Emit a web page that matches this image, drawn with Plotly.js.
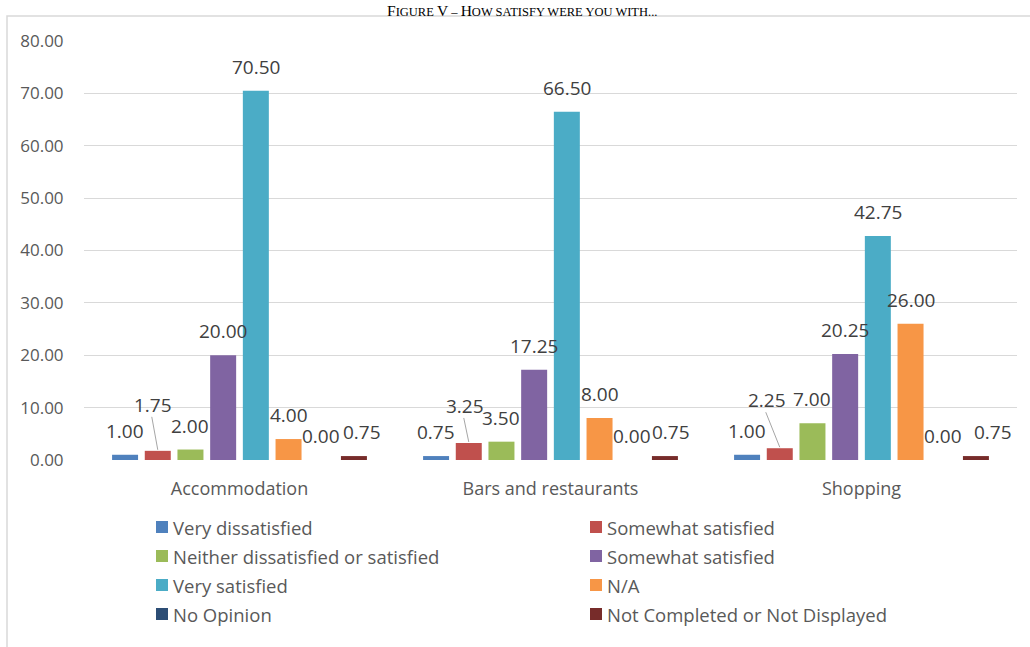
<!DOCTYPE html>
<html>
<head>
<meta charset="utf-8">
<script src="https://cdn.plot.ly/plotly-3.0.1.min.js"></script>
<style>html,body{margin:0;padding:0;background:#fff;}#chart{width:1030px;height:647px;}</style>
</head>
<body>
<div id="chart"></div>
<script>
// ---- data ----
const categories = ["Accommodation", "Bars and restaurants", "Shopping"];
const seriesNames = [
  "Very dissatisfied",
  "Somewhat satisfied",
  "Neither dissatisfied or satisfied",
  "Somewhat satisfied",
  "Very satisfied",
  "N/A",
  "No Opinion",
  "Not Completed or Not Displayed"
];
const veryDissatisfied   = [1.00, 0.75, 1.00];
const somewhatSatisfiedA = [1.75, 3.25, 2.25];
const neither            = [2.00, 3.50, 7.00];
const somewhatSatisfiedB = [20.00, 17.25, 20.25];
const verySatisfied      = [70.50, 66.50, 42.75];
const notApplicable      = [4.00, 8.00, 26.00];
const noOpinion          = [0.00, 0.00, 0.00];
const notCompleted       = [0.75, 0.75, 0.75];
const yTickVals = [0, 10, 20, 30, 40, 50, 60, 70, 80];

// ---- styles ----
const seriesValues = [veryDissatisfied, somewhatSatisfiedA, neither, somewhatSatisfiedB,
                      verySatisfied, notApplicable, noOpinion, notCompleted];
const colors = ["#4F81BD", "#C0504D", "#9BBB59", "#8064A2", "#4BACC6", "#F79646", "#2C4D75", "#772C2A"];
// label nudges in pixels: [seriesIndex, categoryIndex, dx, extra dy, leader line]
const labelNudges = [
  [1, 0, -5, 22, true],
  [7, 0, 8, 0, false],
  [1, 1, -4, 13, true],
  [7, 1, 6, 0, false],
  [1, 2, -13, 24, true],
  [7, 2, 17, 0, false]
];

const FONT = "Open Sans, DejaVu Sans, sans-serif";
const TXT = "#595959";
const LBL = "#404040";
const nSeries = seriesValues.length;
const bargap = 0.159;
const slot = (1 - bargap) / nSeries;
const catX = categories.map((c, i) => i);

// plot-area geometry (pixels) used to place the non-data decorations
const PL = 84, PW = 933, PT = 41, PH = 419;
const px2x = p => (p - PL) / PW;
const py2y = p => (PT + PH - p) / PH;

const traces = seriesValues.map((vals, s) => ({
  type: "bar",
  x: catX,
  y: vals,
  name: seriesNames[s],
  marker: {color: colors[s], line: {width: 0}},
  hoverinfo: "name+y",
  showlegend: false
}));

const annotations = [];
const shapes = [];
seriesValues.forEach((vals, s) => {
  vals.forEach((v, c) => {
    let dx = 0, dy = 0, leader = false;
    labelNudges.forEach(n => { if (n[0] === s && n[1] === c) { dx = n[2]; dy = n[3]; leader = n[4]; } });
    const xc = c + (s - (nSeries - 1) / 2) * slot;
    annotations.push({
      x: xc, y: v, xref: "x", yref: "y",
      text: v.toFixed(2), showarrow: false,
      xanchor: "center", yanchor: "middle",
      xshift: dx, yshift: 24 + dy,
      font: {family: FONT, size: 19, color: LBL}
    });
    if (leader) {
      shapes.push({
        type: "line", xref: "x", yref: "y",
        xsizemode: "pixel", ysizemode: "pixel",
        xanchor: xc, yanchor: v,
        x0: 0, x1: dx - 1, y0: 1, y1: 24 + dy - 12,
        line: {color: "#a6a6a6", width: 1}
      });
    }
  });
});

// legend drawn in two columns, four rows
const legendCols = [156, 590];
const legendRows = [527, 556, 585, 614];
seriesNames.forEach((name, s) => {
  const col = s % 2, row = Math.floor(s / 2);
  const sx = legendCols[col], sy = legendRows[row];
  shapes.push({
    type: "rect", xref: "paper", yref: "paper",
    x0: px2x(sx), x1: px2x(sx + 12), y0: py2y(sy - 6), y1: py2y(sy + 6),
    fillcolor: colors[s], line: {width: 0}
  });
  annotations.push({
    xref: "paper", yref: "paper", x: px2x(sx + 15), y: py2y(sy),
    xanchor: "left", yanchor: "middle", showarrow: false,
    text: name, font: {family: FONT, size: 18.5, color: TXT}
  });
});

// outer frame (as in the source document)
shapes.push({
  type: "rect", xref: "paper", yref: "paper",
  x0: px2x(7), x1: px2x(1045), y0: py2y(700), y1: py2y(16),
  line: {color: "#d9d9d9", width: 1.5}, fillcolor: "rgba(0,0,0,0)", layer: "below"
});

// caption at the top of the page
annotations.push({
  xref: "paper", yref: "paper",
  x: px2x(522), y: py2y(21),
  xanchor: "center", yanchor: "bottom", showarrow: false,
  text: '<span style="font-size:15.5px">F</span>IGURE <span style="font-size:15.5px">V</span> – <span style="font-size:15.5px">H</span>OW SATISFY WERE YOU WITH...',
  font: {family: "Liberation Serif, Times New Roman, serif", size: 12.5, color: "#000"}
});

const layout = {
  width: 1030, height: 647,
  margin: {l: PL, r: 1030 - PL - PW, t: PT, b: 647 - PT - PH, pad: 0},
  paper_bgcolor: "#fff", plot_bgcolor: "#fff",
  barmode: "group",
  bargap: bargap,
  bargroupgap: 0.205,
  showlegend: false,
  xaxis: {
    type: "linear", range: [-0.5, 2.5],
    tickvals: catX, ticktext: categories,
    showgrid: false, zeroline: false, showline: false,
    ticks: "outside", ticklen: 12, tickcolor: "rgba(0,0,0,0)",
    tickfont: {family: FONT, size: 18, color: TXT},
    fixedrange: true
  },
  yaxis: {
    range: [0, 80], tickvals: yTickVals,
    ticktext: yTickVals.map(v => v.toFixed(2)),
    showgrid: true, gridcolor: "#d9d9d9", gridwidth: 1,
    zeroline: false, showline: false,
    ticks: "outside", ticklen: 16, tickcolor: "rgba(0,0,0,0)",
    tickfont: {family: FONT, size: 17, color: TXT},
    fixedrange: true
  },
  annotations: annotations,
  shapes: shapes
};

Plotly.newPlot("chart", traces, layout, {displayModeBar: false, staticPlot: true});
</script>
</body>
</html>
